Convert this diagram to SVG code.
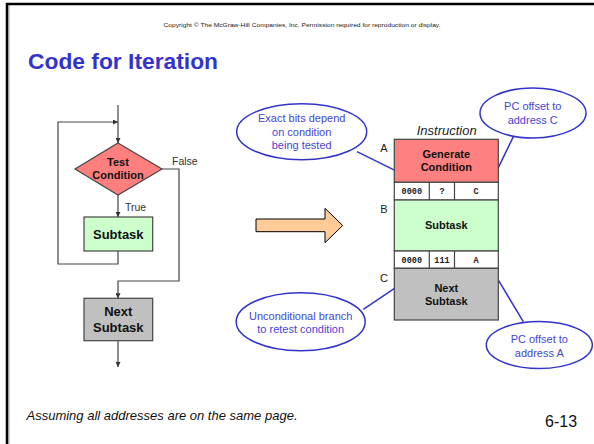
<svg xmlns="http://www.w3.org/2000/svg" width="594" height="444" viewBox="0 0 594 444">
<defs>
<marker id="ah" viewBox="0 0 10 10" refX="10" refY="5" markerWidth="5" markerHeight="5" orient="auto" markerUnits="userSpaceOnUse">
<path d="M0,0 L10,5 L0,10 z" fill="#333"/>
</marker>
<style>
.t{font-family:"Liberation Sans",Arial,sans-serif}
.b{font-weight:bold;fill:#111}
.flow{fill:none;stroke:#444;stroke-width:1.2}
.box{stroke:#444;stroke-width:1.2}
.ell{fill:#fff;stroke:#3333cc;stroke-width:1.5}
.ptr{stroke:#3333cc;stroke-width:1.5;fill:none}
.et{font-family:"Liberation Sans",Arial,sans-serif;font-size:11px;fill:#4646d2;text-anchor:middle}
.mono{font-family:"Liberation Mono","Courier New",monospace;font-weight:bold;font-size:8.5px;fill:#222;text-anchor:middle}
.lbl{font-family:"Liberation Sans",Arial,sans-serif;font-size:11px;fill:#222;text-anchor:middle}
</style>
</defs>
<rect width="594" height="444" fill="#fff"/>
<g id="frame">
<line x1="9" y1="5" x2="9" y2="444" stroke="#aaa" stroke-width="1"/>
<path d="M7,444 V4 H594" fill="none" stroke="#000" stroke-width="2.5"/>
</g>
<text class="t" x="163.5" y="27" font-size="6" fill="#222" textLength="277" lengthAdjust="spacingAndGlyphs">Copyright © The McGraw-Hill Companies, Inc.  Permission required for reproduction or display.</text>
<text class="t" x="28" y="69" font-size="22.8" font-weight="bold" fill="#3333cc">Code for Iteration</text>

<g id="connectors">
<path class="flow" d="M118,105 V143" marker-end="url(#ah)"/>
<path class="flow" d="M118,251 V264 H58 V122 H118" marker-end="url(#ah)"/>
<path class="flow" d="M162,169 H179 V281 H118 V298.3" marker-end="url(#ah)"/>
<path class="flow" d="M118,195 V217" marker-end="url(#ah)"/>
<path class="flow" d="M118,341 V367" marker-end="url(#ah)"/>
<path class="ptr" d="M357,151.7 L436,190.7"/>
<path class="ptr" d="M513.3,136.7 L486.7,191.7"/>
<path class="ptr" d="M363.3,309.3 L431.7,263.3"/>
<path class="ptr" d="M523.3,321.7 L486.7,260.7"/>
</g>

<g id="test-condition">
<polygon class="box" points="118,143 162,169 118,195 75,169" fill="#ff7f7f"/>
<text class="t b" x="118" y="166" font-size="11" text-anchor="middle">Test</text>
<text class="t b" x="118" y="179" font-size="11" text-anchor="middle">Condition</text>
</g>
<text class="t" x="172" y="164.5" font-size="10.5" fill="#333">False</text>
<text class="t" x="125" y="211" font-size="10.5" fill="#333">True</text>
<g id="subtask">
<rect class="box" x="84" y="217" width="68.7" height="34" fill="#ccffcc"/>
<text class="t b" x="118.3" y="238.5" font-size="13" text-anchor="middle">Subtask</text>
</g>
<g id="next-subtask">
<rect class="box" x="84" y="298.3" width="68.7" height="42.4" fill="#c0c0c0"/>
<text class="t b" x="118.3" y="315.5" font-size="13" text-anchor="middle">Next</text>
<text class="t b" x="118.3" y="332" font-size="13" text-anchor="middle">Subtask</text>
</g>

<g id="arrow">
<polygon points="256,219 325,219 325,208.3 342.7,225.5 325,242.7 325,231.7 256,231.7" fill="#ffcc99" stroke="#000" stroke-width="1"/>
</g>

<g id="memory">
<text class="t" x="446.7" y="135" font-size="13" font-style="italic" fill="#222" text-anchor="middle">Instruction</text>
<rect class="box" x="394.3" y="139.3" width="104" height="43" fill="#ff8080"/>
<text class="t b" x="446.3" y="158" font-size="11" text-anchor="middle">Generate</text>
<text class="t b" x="446.3" y="171.3" font-size="11" text-anchor="middle">Condition</text>
<rect class="box" x="394.3" y="182.3" width="104" height="17.7" fill="#fff"/>
<line class="box" x1="429.3" y1="182.3" x2="429.3" y2="200"/>
<line class="box" x1="454.5" y1="182.3" x2="454.5" y2="200"/>
<text class="mono" x="411.8" y="194">0000</text>
<text class="mono" x="442" y="194">?</text>
<text class="mono" x="476" y="194">C</text>
<rect class="box" x="394.3" y="200" width="104" height="51" fill="#ccffcc"/>
<text class="t b" x="446.3" y="229" font-size="11" text-anchor="middle">Subtask</text>
<rect class="box" x="394.3" y="251" width="104" height="17.3" fill="#fff"/>
<line class="box" x1="429.3" y1="251" x2="429.3" y2="268.3"/>
<line class="box" x1="454.5" y1="251" x2="454.5" y2="268.3"/>
<text class="mono" x="411.8" y="263">0000</text>
<text class="mono" x="442" y="263">111</text>
<text class="mono" x="476" y="263">A</text>
<rect class="box" x="394.3" y="268.3" width="104" height="51.7" fill="#c0c0c0"/>
<text class="t b" x="446.3" y="291.5" font-size="11" text-anchor="middle">Next</text>
<text class="t b" x="446.3" y="304.5" font-size="11" text-anchor="middle">Subtask</text>
<text class="lbl" x="384" y="152">A</text>
<text class="lbl" x="384" y="213">B</text>
<text class="lbl" x="384" y="281.7">C</text>
</g>

<g id="note-exact-bits">
<ellipse class="ell" cx="301.7" cy="131.7" rx="65" ry="28"/>
<text class="et" x="301.7" y="122">Exact bits depend</text>
<text class="et" x="301.7" y="135.5">on condition</text>
<text class="et" x="301.7" y="149">being tested</text>
</g>
<g id="note-offset-c">
<ellipse class="ell" cx="533" cy="113" rx="53" ry="25"/>
<text class="et" x="532.7" y="110">PC offset to</text>
<text class="et" x="532.7" y="124">address C</text>
</g>
<g id="note-unconditional">
<ellipse class="ell" cx="300.7" cy="321.7" rx="64.5" ry="29"/>
<text class="et" x="300.7" y="319.5">Unconditional branch</text>
<text class="et" x="300.7" y="333">to retest condition</text>
</g>
<g id="note-offset-a">
<ellipse class="ell" cx="539.3" cy="345" rx="53" ry="23.5"/>
<text class="et" x="539.3" y="343">PC offset to</text>
<text class="et" x="539.3" y="357">address A</text>
</g>

<text class="t" x="26.5" y="420" font-size="13" font-style="italic" fill="#111">Assuming all addresses are on the same page.</text>
<text class="t" x="545" y="427" font-size="16" fill="#111">6-13</text>
</svg>
